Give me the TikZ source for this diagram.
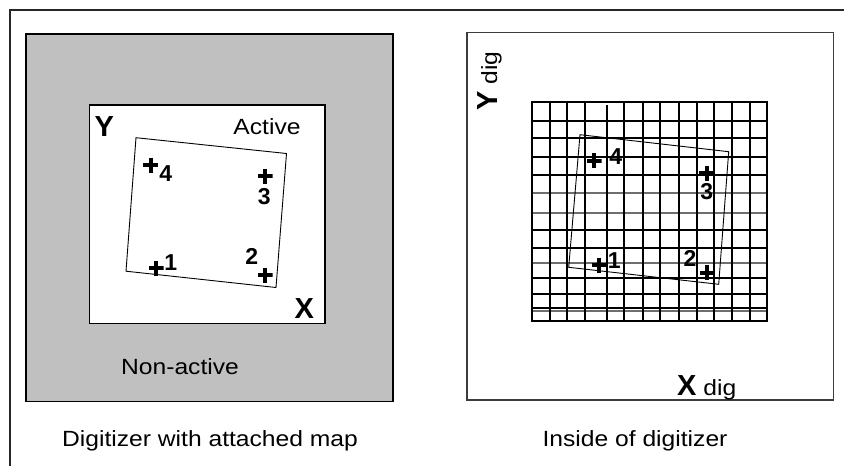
\documentclass[tikz,border=0pt]{standalone}
\usepackage{fontspec}
\setmainfont[FakeStretch=1.12]{Liberation Sans}
\newfontfamily\lbl{Liberation Sans}
\definecolor{padgray}{RGB}{192,192,192}
\definecolor{boxline}{RGB}{60,60,60}
\definecolor{gridgray}{RGB}{110,110,110}
\tikzset{
  txt/.style={font=\fontsize{22}{26}\selectfont, inner sep=0pt, anchor=base},
  axislbl/.style={font=\lbl\bfseries\fontsize{29}{32}\selectfont, inner sep=0pt, anchor=base},
  num/.style={font=\lbl\bfseries\fontsize{23}{26}\selectfont, inner sep=0pt},
  crossmark/.style={minimum size=15pt, inner sep=0pt,
    path picture={\draw[line width=3.8pt]
      (path picture bounding box.north) -- (path picture bounding box.south)
      (path picture bounding box.west) -- (path picture bounding box.east);}},
  quad/.style={line width=0.9pt, black},
  vline/.style={line width=2pt, black},
  hline/.style={line width=1.6pt, black},
}
\begin{document}
\begin{tikzpicture}[x=1pt, y=-1pt]
\useasboundingbox (0,0) rectangle (844,466);
% outer frame (open at right and bottom)
\draw[line width=2.2pt, black!85] (9.7,466) -- (9.7,9.7) -- (844,9.7);

% ---------- left panel ----------
\draw[line width=1.6pt, fill=padgray] (26,34) rectangle (393,401.5);
\draw[line width=1.6pt, fill=white] (89.3,105) rectangle (325,323.3);
\draw[quad] (136,137.7) -- (286.5,153.5) -- (276,287.5) -- (126,271.2) -- cycle;

\node[axislbl] (Yl) at (104.3,136.7) {Y};
\node[axislbl] (Xl) at (304.3,318.3) {X};
\node[txt] (act) at (267,134) {Active};
\node[txt] (nonact) at (180,374) {Non-active};
\node[txt] (capL) at (210,446.7) {Digitizer with attached map};

\node[crossmark] (pL4) at (150.7,165.3) {};
\node[num] (nL4) at (165.7,174) {4};
\node[crossmark] (pL3) at (265,176) {};
\node[num] (nL3) at (264.3,196.7) {3};
\node[crossmark] (pL1) at (156,268.3) {};
\node[num] (nL1) at (170.7,262.7) {1};
\node[crossmark] (pL2) at (265,275) {};
\node[num] (nL2) at (251.7,256.7) {2};

% ---------- right panel ----------
\draw[line width=1.1pt, boxline] (467,32.7) rectangle (833.5,400);

% grid
\foreach \yy in {121,138,157,175,230,248,278,294,308}
  \draw[hline] (532,\yy) -- (767,\yy);
\foreach \yy in {193,213,263,311}
  \draw[hline, gridgray] (532,\yy) -- (767,\yy);
\foreach \xx in {550,567,585,624,643,660,679,697,714,732,750}
  \draw[vline] (\xx,102) -- (\xx,321);
\draw[vline] (607,105) -- (607,322);
\draw[line width=2pt, black] (532,102) rectangle (767,321);

\draw[quad] (580,134.7) -- (728.7,151.7) -- (718.7,284.3) -- (568.7,267.3) -- cycle;

\node[crossmark] (pR4) at (594,160.7) {};
\node[num] (nR4) at (615.7,156.7) {4};
\node[crossmark] (pR3) at (706.7,173.3) {};
\node[num] (nR3) at (706.7,191.7) {3};
\node[crossmark] (pR1) at (599,265) {};
\node[num] (nR1) at (614.3,260.7) {1};
\node[crossmark] (pR2) at (707.3,272.7) {};
\node[num] (nR2) at (690,258.3) {2};

\node[txt, anchor=base west] (Xdig) at (677,395)
  {{\lbl\bfseries\fontsize{29}{32}\selectfont X} dig};
\node[txt, anchor=base west, rotate=90] (Ydig) at (497,111)
  {{\lbl\bfseries\fontsize{29}{32}\selectfont Y} dig};
\node[txt] (capR) at (635,446.7) {Inside of digitizer};
\end{tikzpicture}
\end{document}
